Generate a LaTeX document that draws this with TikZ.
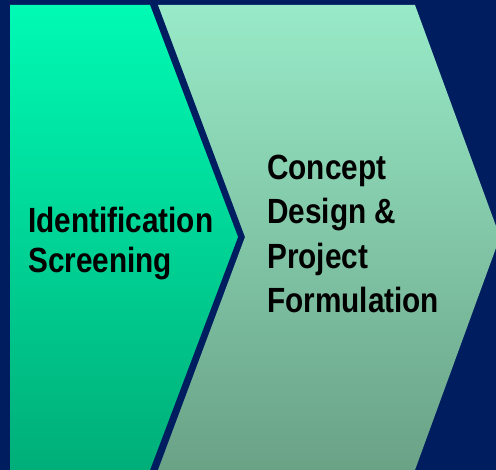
\documentclass[tikz,border=0pt]{standalone}
\usepackage{fontspec}
\newfontfamily\stagefont[FakeStretch=0.85]{Liberation Sans}
\usetikzlibrary{positioning}
\definecolor{navy}{RGB}{0,30,95}
\definecolor{greentop}{RGB}{0,250,180}
\definecolor{greenbot}{RGB}{0,174,120}
\definecolor{chevtop}{RGB}{152,234,200}
\definecolor{chevbot}{RGB}{106,162,134}

\begin{document}
\begin{tikzpicture}[x=1pt, y=-1pt,
    stage/.style={font=\stagefont\bfseries\fontsize{35}{40}\selectfont, align=left, anchor=base west, inner sep=0pt}]
    \fill[navy] (0,0) rectangle (496,470);
    \useasboundingbox (0,0) rectangle (496,470);
    \clip (0,0) rectangle (496,470);

    % chevron of the second stage
    \shade[top color=chevtop, bottom color=chevbot] (158,5) -- (415,5) -- (500,237) -- (415,470) -- (158,470) -- (245,237) -- cycle;
    % arrow of the first stage
    \shade[top color=greentop, bottom color=greenbot] (10,5) -- (150,5) -- (238,237) -- (150,470) -- (10,470) -- cycle;

    \node[stage] (ident) at (28,273) {Identification\\Screening};
    \node[stage, font=\stagefont\bfseries\fontsize{35}{44.5}\selectfont] (concept) at (267,313) {Concept\\Design \&\\Project\\Formulation};
\end{tikzpicture}
\end{document}
